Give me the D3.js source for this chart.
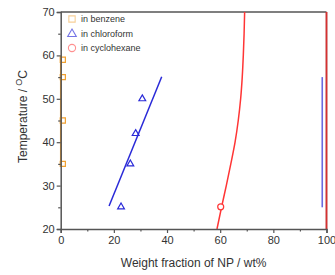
<!DOCTYPE html>
<html><head><meta charset="utf-8">
<script src="https://cdn.jsdelivr.net/npm/d3@7"></script>
<style>body{margin:0;background:#fff}svg{display:block}text{font-family:"Liberation Sans",Arial,sans-serif}</style>
</head><body><svg id="c" width="335" height="275"></svg>
<script>
const xTicks = [0, 20, 40, 60, 80, 100];
const xMinor = [10, 30, 50, 70, 90];
const yTicks = [20, 30, 40, 50, 60, 70];
const yMinor = [25, 35, 45, 55, 65];

const benzeneX = [0.8, 0.8, 0.8, 0.8];
const benzeneT = [35, 45, 55, 59];
const benzeneLineX = [0, 0];
const benzeneLineT = [34.5, 60];

const chloroX = [22.7, 26.2, 28.2, 30.7];
const chloroT = [25.1, 35, 42, 50];
const chloroFitX = [18.2, 38];
const chloroFitT = [25.3, 55.1];
const chloroVertX = [98.4, 98.4];
const chloroVertT = [25, 55];

const cycloX = [60.2];
const cycloT = [25.1];
const cycloCurveX = [58.8, 60.5, 62.3, 64, 65.6, 66.8, 67.7, 68.3, 68.7, 69, 69.2];
const cycloCurveT = [20, 25, 30, 35, 40, 45, 50, 55, 60, 65, 70];
const cycloVertX = [100, 100];
const cycloVertT = [20, 70];

const legendLabels = ["in benzene", "in chloroform", "in cyclohexane"];
const colors = {benzene: "#f0a030", chloro: "#2a2ad8", cyclo: "#ff3535"};

const svg = d3.select("#c");
const x = d3.scaleLinear().domain([0, 100]).range([60.7, 326.5]);
const y = d3.scaleLinear().domain([20, 70]).range([229, 12]);
const axisColor = "#555";

// frame top/right
svg.append("line").attr("x1", x(0)).attr("x2", x(100)).attr("y1", y(70)).attr("y2", y(70))
  .attr("stroke", axisColor).attr("stroke-width", 1.3);
svg.append("line").attr("x1", x(100)).attr("x2", x(100)).attr("y1", y(70)).attr("y2", y(20))
  .attr("stroke", axisColor).attr("stroke-width", 1.3);

const zip = (xs, ys) => xs.map((v, i) => [v, ys[i]]);
const line = d3.line().x(d => x(d[0])).y(d => y(d[1]));
const curve = d3.line().x(d => x(d[0])).y(d => y(d[1])).curve(d3.curveMonotoneY);

svg.append("path").attr("d", line(zip(benzeneLineX, benzeneLineT))).attr("fill", "none")
  .attr("stroke", colors.benzene).attr("stroke-width", 1.5);
svg.append("path").attr("d", line(zip(chloroFitX, chloroFitT))).attr("fill", "none")
  .attr("stroke", colors.chloro).attr("stroke-width", 1.5);
svg.append("path").attr("d", line(zip(chloroVertX, chloroVertT))).attr("fill", "none")
  .attr("stroke", "#6a6ae0").attr("stroke-width", 1.6);
svg.append("path").attr("d", curve(zip(cycloCurveX, cycloCurveT))).attr("fill", "none")
  .attr("stroke", colors.cyclo).attr("stroke-width", 1.5);
svg.append("path").attr("d", line(zip(cycloVertX, cycloVertT))).attr("fill", "none")
  .attr("stroke", "#d63030").attr("stroke-width", 1.8);

// markers
const sq = d3.symbol().type(d3.symbolSquare).size(26);
const tri = d3.symbol().type(d3.symbolTriangle).size(20);
svg.selectAll(".b").data(zip(benzeneX, benzeneT)).join("path")
  .attr("d", sq).attr("transform", d => `translate(${x(d[0])},${y(d[1])})`)
  .attr("fill", "none").attr("stroke", colors.benzene).attr("stroke-width", 1.2);
svg.selectAll(".c").data(zip(chloroX, chloroT)).join("path")
  .attr("d", tri).attr("transform", d => `translate(${x(d[0])},${y(d[1])})`)
  .attr("fill", "none").attr("stroke", colors.chloro).attr("stroke-width", 1.2);
svg.selectAll(".h").data(zip(cycloX, cycloT)).join("circle")
  .attr("cx", d => x(d[0])).attr("cy", d => y(d[1])).attr("r", 3)
  .attr("fill", "#fff").attr("stroke", colors.cyclo).attr("stroke-width", 1.2);

// axes
const gx = svg.append("g").attr("transform", `translate(0,${y(20)})`)
  .call(d3.axisBottom(x).tickValues(xTicks).tickSize(4).tickPadding(3).tickFormat(d3.format("d")));
const gxm = svg.append("g").attr("transform", `translate(0,${y(20)})`)
  .call(d3.axisBottom(x).tickValues(xMinor).tickSize(2.5).tickFormat(""));
const gy = svg.append("g").attr("transform", `translate(${x(0)},0)`)
  .call(d3.axisLeft(y).tickValues(yTicks).tickSize(4).tickPadding(2).tickFormat(d3.format("d")));
const gym = svg.append("g").attr("transform", `translate(${x(0)},0)`)
  .call(d3.axisLeft(y).tickValues(yMinor).tickSize(2.5).tickFormat(""));
[gx, gxm, gy, gym].forEach(g => {
  g.select(".domain").attr("stroke", axisColor).attr("stroke-width", 1.5);
  g.selectAll(".tick line").attr("stroke", axisColor).attr("stroke-width", 1.2);
  g.selectAll(".tick text").attr("fill", "#333").attr("font-size", 11)
    .attr("font-family", "Liberation Sans, Arial, sans-serif");
});
gxm.select(".domain").remove(); gym.select(".domain").remove();

// axis titles
svg.append("text").attr("x", (x(0) + x(100)) / 2).attr("y", 267).attr("text-anchor", "middle")
  .attr("font-size", 12).attr("fill", "#333").text("Weight fraction of NP / wt%");
const yl = svg.append("text").attr("transform", `translate(27,${y(45) - 4}) rotate(-90)`)
  .attr("text-anchor", "middle").attr("font-size", 12).attr("fill", "#333");
yl.append("tspan").text("Temperature / ");
yl.append("tspan").attr("font-size", 9).attr("dy", -5).text("O");
yl.append("tspan").attr("dy", 5).text("C");

// legend
const legY = [19, 33.5, 48];
const lg = svg.append("g");
lg.append("path").attr("d", d3.symbol().type(d3.symbolSquare).size(40)())
  .attr("transform", `translate(72,${legY[0]})`).attr("fill", "none")
  .attr("stroke", colors.benzene).attr("stroke-opacity", 0.5).attr("stroke-width", 1.1);
lg.append("path").attr("d", d3.symbol().type(d3.symbolTriangle).size(32)())
  .attr("transform", `translate(72,${legY[1] + 0.5})`).attr("fill", "none")
  .attr("stroke", colors.chloro).attr("stroke-opacity", 0.65).attr("stroke-width", 1.1);
lg.append("circle").attr("cx", 72).attr("cy", legY[2]).attr("r", 3.6).attr("fill", "none")
  .attr("stroke", colors.cyclo).attr("stroke-opacity", 0.55).attr("stroke-width", 1.1);
lg.selectAll("text").data(legendLabels).join("text")
  .attr("x", 81).attr("y", (d, i) => legY[i] + 3).attr("font-size", 9).attr("fill", "#333").text(d => d);
</script></body></html>
